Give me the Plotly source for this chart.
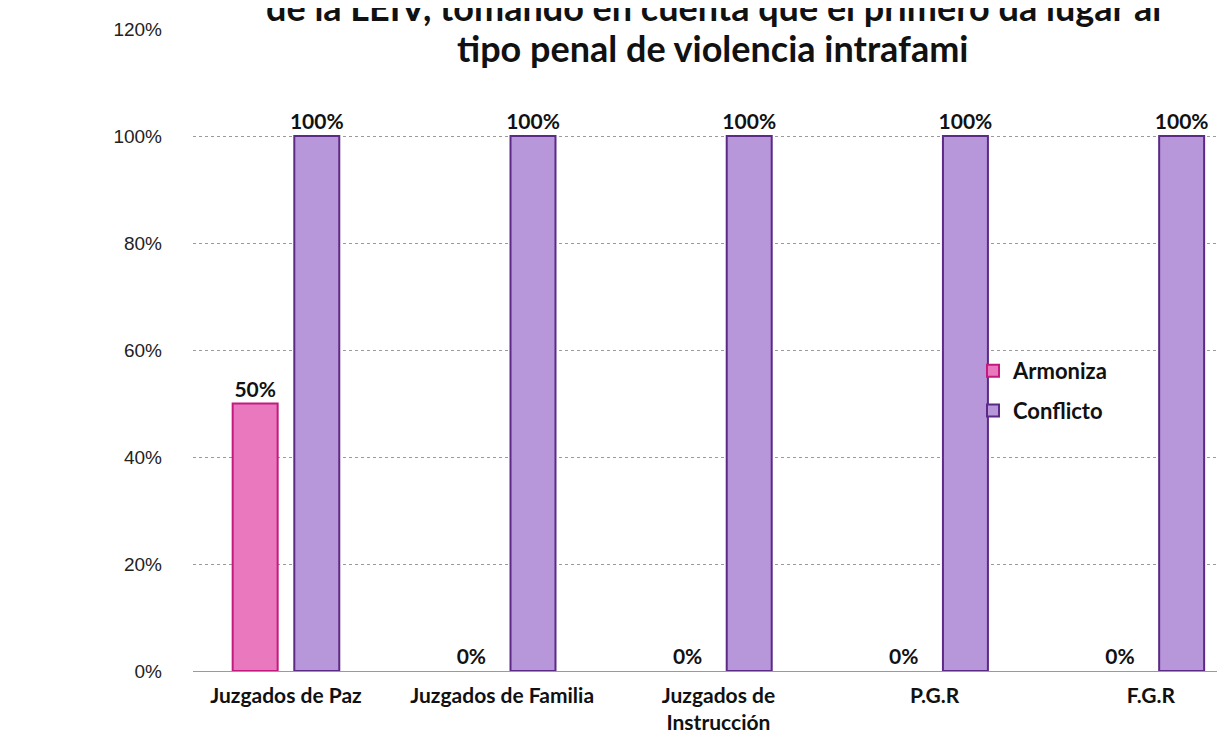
import plotly.graph_objects as go

categories = ["Juzgados de Paz", "Juzgados de Familia", "Juzgados de<br>Instrucción", "P.G.R", "F.G.R"]
armoniza = [0.50, 0.0, 0.0, 0.0, 0.0]
conflicto = [1.0, 1.0, 1.0, 1.0, 1.0]
y_ticks = [0, 0.2, 0.4, 0.6, 0.8, 1.0, 1.2]
title_lines = ["de la LEIV, tomando en cuenta que el primero da lugar al",
               "tipo penal de violencia intrafami"]

font_family = "Lato, Open Sans, sans-serif"

fig = go.Figure()
fig.add_bar(x=categories, y=armoniza, name="Armoniza", legendgroup="a",
            marker=dict(color="#EA78BE", line=dict(color="#C21A7E",
                                                   width=[2 if v > 0 else 0 for v in armoniza])),
            text=[f"{v:.0%}" for v in armoniza], textposition="outside",
            textfont=dict(family=font_family, size=21, color="#111111", weight="bold"),
            constraintext="none", cliponaxis=False)
fig.add_bar(x=categories, y=conflicto, name="Conflicto", legendgroup="c",
            marker=dict(color="#B797DA", line=dict(color="#5B2A86", width=2)),
            text=[f"{v:.0%}" for v in conflicto], textposition="outside",
            textfont=dict(family=font_family, size=21, color="#111111", weight="bold"),
            constraintext="none", cliponaxis=False)

# title: first line is cut off at the top in the reference
for line, ypos in zip(title_lines, [1.034, 0.97]):
    fig.add_annotation(text=line, xref="paper", yref="paper", x=0.5, y=ypos,
                       xanchor="center", yanchor="middle", showarrow=False,
                       font=dict(family=font_family, size=36, color="#111111", weight="bold"))

fig.update_layout(
    width=1225, height=738,
    paper_bgcolor="white", plot_bgcolor="white",
    barmode="group", bargap=0.43, bargroupgap=0.27,
    margin=dict(l=185, r=0, t=21, b=75),
    font=dict(family=font_family, size=18, color="#222222"),
    legend=dict(x=0.75, y=0.5, xanchor="left", yanchor="top",
                font=dict(family=font_family, size=22, color="#111111", weight="bold"),
                bgcolor="rgba(255,255,255,0)", itemwidth=30, tracegroupgap=8,
                traceorder="grouped"),
    showlegend=True,
)
fig.update_xaxes(range=[-0.43, 4.38], showgrid=False, showline=False, ticks="",
                 ticklabelstandoff=10,
                 tickfont=dict(family=font_family, size=21, color="#111111", weight="bold"))
fig.update_yaxes(range=[0, 1.2], tickvals=y_ticks, tickformat=".0%",
                 showgrid=True, gridcolor="#9a9a9a", griddash="dot", gridwidth=1,
                 zeroline=True, zerolinecolor="#9a9a9a", zerolinewidth=1,
                 ticks="", ticklabelstandoff=30,
                 tickfont=dict(family="Liberation Sans, sans-serif", size=19, color="#222222"))

fig.write_html("out.html")
